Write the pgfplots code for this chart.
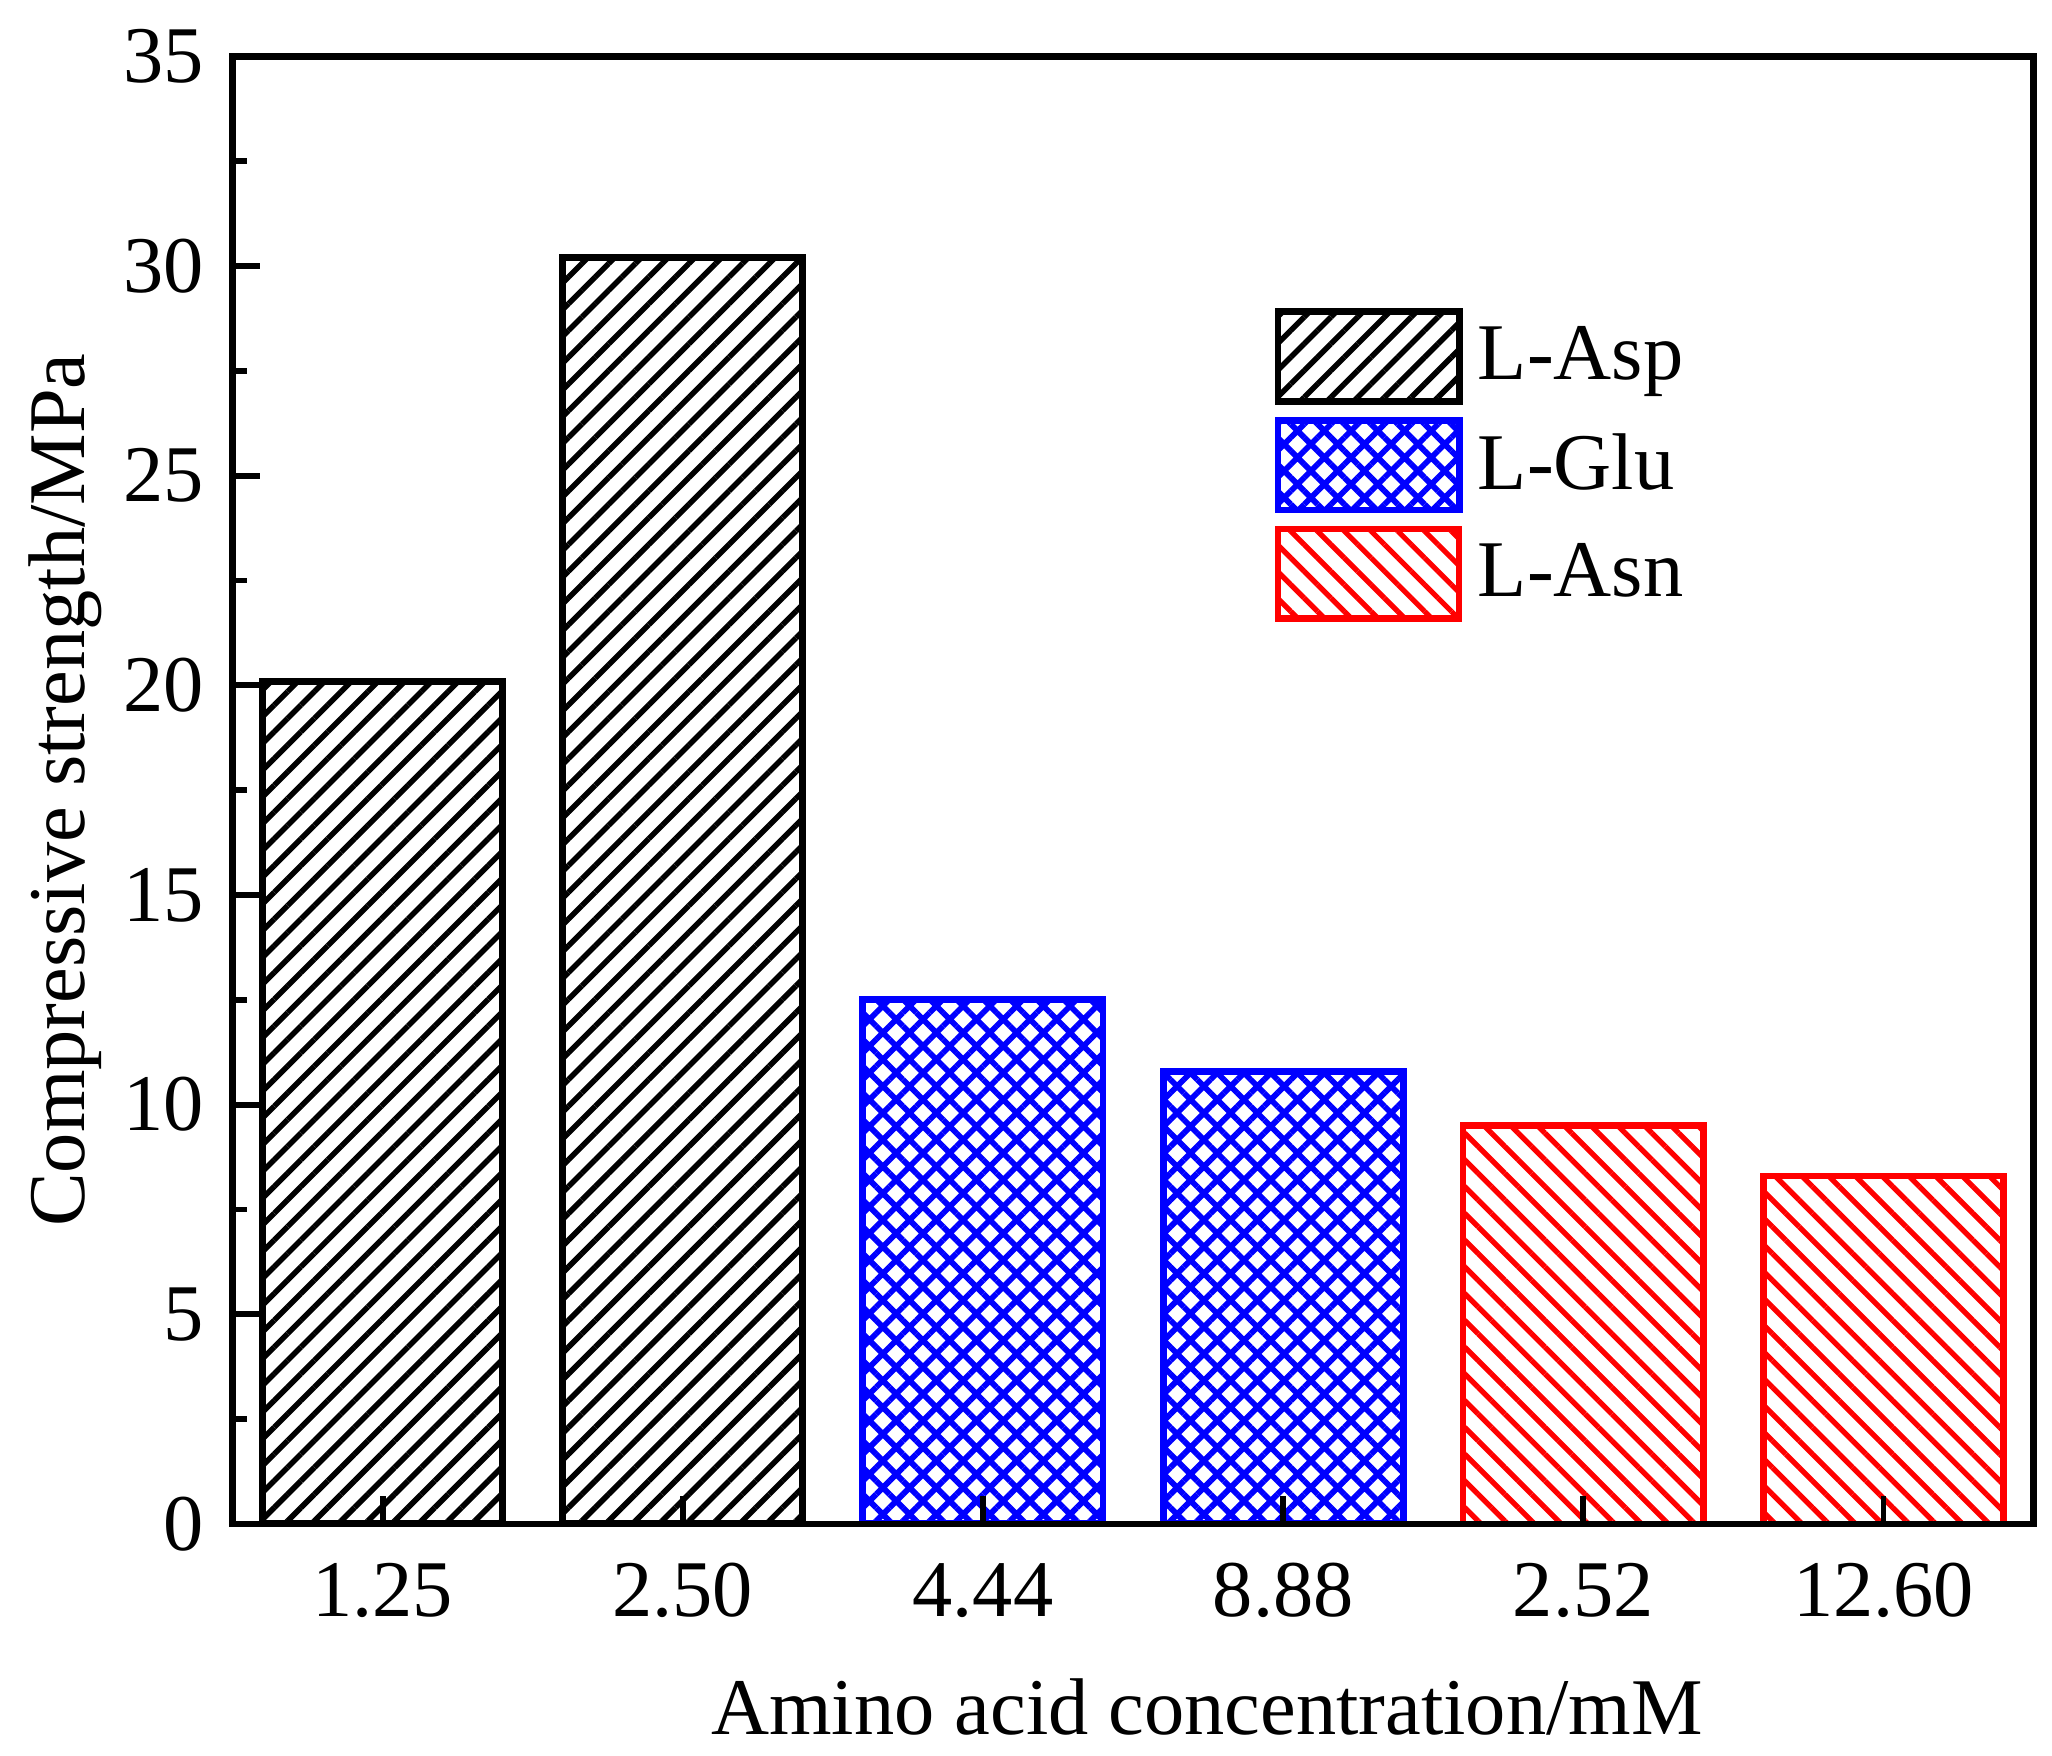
\documentclass[border=0pt]{standalone}
\usepackage{fontspec}
\setmainfont{Liberation Serif}
\usepackage{pgfplots}
\pgfplotsset{compat=1.18}
\usetikzlibrary{patterns.meta}
\newcommand{\chartfont}{\fontsize{15.3}{18}\selectfont}
\begin{document}
\begin{tikzpicture}
\begin{axis}[
  name=ax,
  scale only axis,
  width=342.75pt, height=279.25pt,
  xmin=-0.5, xmax=5.5, ymin=0, ymax=35,
  ybar, bar width=0.8, bar shift=0pt,
  xtick={0,...,5},
  xticklabels={1.25,2.50,4.44,8.88,2.52,12.60},
  ytick={0,5,...,35},
  minor ytick={2.5,7.5,...,32.5},
  tick align=inside,
  xtick pos=left, ytick pos=left,
  major tick length=5.3pt, minor tick length=2.7pt,
  every tick/.style={black, line width=1.1pt},
  axis line style={line width=1.2pt},
  axis on top,
  tick label style={font=\chartfont, /pgf/number format/assume math mode=true},
  xticklabel style={yshift=-4pt},
  yticklabel style={xshift=-2pt},
  ylabel={Compressive strength/MPa},
  ylabel style={at={(axis description cs:-0.0927,0.5)}, anchor=center, font=\chartfont},
  xlabel={Amino acid concentration/mM},
  xlabel style={at={(axis description cs:0.541,-0.125)}, anchor=center, font=\chartfont},
  legend image code/.code={\draw[#1] (0pt,-8.5pt) rectangle (34.5pt,8.5pt);},
  legend style={at={(axis description cs:0.578,0.829)}, anchor=north west,
    draw=none, fill=none, inner sep=0pt, row sep=2.4pt, font=\chartfont,
    nodes={inner sep=0.5pt},
    /tikz/every odd column/.append style={column sep=2.4pt}},
  legend cell align=left,
]
\addplot[draw=black, line width=1.3pt, pattern={Lines[angle=45,distance=3.6pt,line width=1.05pt]}, pattern color=black]
  coordinates {(0,20.1) (1,30.2)};
\addplot[draw=blue, line width=1.3pt, pattern={Hatch[angle=45,distance=3.6pt,line width=1.1pt]}, pattern color=blue]
  coordinates {(2,12.5) (3,10.8)};
\addplot[draw=red, line width=1.2pt, pattern={Lines[angle=-45,distance=3.6pt,line width=1.0pt]}, pattern color=red]
  coordinates {(4,9.5) (5,8.3)};
\legend{L-Asp,L-Glu,L-Asn}
\end{axis}
\pgfresetboundingbox
\path ([shift={(-44.25pt,-44pt)}]ax.south west) rectangle ([shift={(3.5pt,10.75pt)}]ax.north east);
\end{tikzpicture}
\end{document}
